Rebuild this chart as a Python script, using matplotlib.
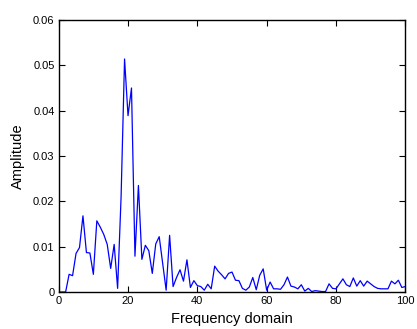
import matplotlib
matplotlib.use("Agg")
import matplotlib.pyplot as plt
import numpy as np

plt.rcParams['font.family'] = ['Liberation Sans', 'DejaVu Sans']

freq = list(range(0, 101))
amplitude = [
    0.0, 0.0, 0.0, 0.0039, 0.0036, 0.0085, 0.0098, 0.0168, 0.0087, 0.0086,
    0.0039, 0.0157, 0.0143, 0.0127, 0.0105, 0.0052, 0.0105, 0.0008, 0.0210, 0.0514,
    0.0389, 0.0450, 0.0079, 0.0235, 0.0072, 0.0103, 0.0091, 0.0041, 0.0106, 0.0122,
    0.0063, 0.0004, 0.0125, 0.0012, 0.0032, 0.0049, 0.0024, 0.0071, 0.0010, 0.0025,
    0.0014, 0.0012, 0.0004, 0.0017, 0.0007, 0.0057, 0.0046, 0.0038, 0.0029, 0.0041,
    0.0044, 0.0026, 0.0025, 0.0008, 0.0004, 0.0011, 0.0032, 0.0005, 0.0037, 0.0051,
    0.0004, 0.0022, 0.0007, 0.0007, 0.0006, 0.0016, 0.0033, 0.0013, 0.0011, 0.0007,
    0.0016, 0.0002, 0.0008, 0.0001, 0.0003, 0.0002, 0.0001, 0.0001, 0.0018, 0.0008,
    0.0007, 0.0018, 0.0029, 0.0016, 0.0012, 0.0031, 0.0013, 0.0025, 0.0013, 0.0024,
    0.0018, 0.0012, 0.0008, 0.0007, 0.0007, 0.0007, 0.0024, 0.0018, 0.0026, 0.0010,
    0.0012,
]
xticks = [0, 20, 40, 60, 80, 100]
yticks = [0, 0.01, 0.02, 0.03, 0.04, 0.05, 0.06]
yticklabels = ['0', '0.01', '0.02', '0.03', '0.04', '0.05', '0.06']

fig = plt.figure(figsize=(4.17, 3.29), dpi=100)
ax = fig.add_axes([58.7/417, 1 - 292/329, (405.3 - 58.7)/417, (292 - 20)/329])
ax.plot(freq, amplitude, color='#0000ff', linewidth=0.9)
ax.set_xlim(0, 100)
ax.set_ylim(0, 0.06)
ax.set_xticks(xticks)
ax.set_xticklabels([str(t) for t in xticks])
ax.set_yticks(yticks)
ax.set_yticklabels(yticklabels)
ax.tick_params(direction='in', top=True, right=True, length=4, width=0.8,
               labelsize=8, pad=3)
for s in ax.spines.values():
    s.set_linewidth(1.0)
ax.set_xlabel('Frequency domain', fontsize=10.5, labelpad=4)
ax.set_ylabel('Amplitude', fontsize=10.5, labelpad=6)
fig.savefig('out.png', dpi=100)
